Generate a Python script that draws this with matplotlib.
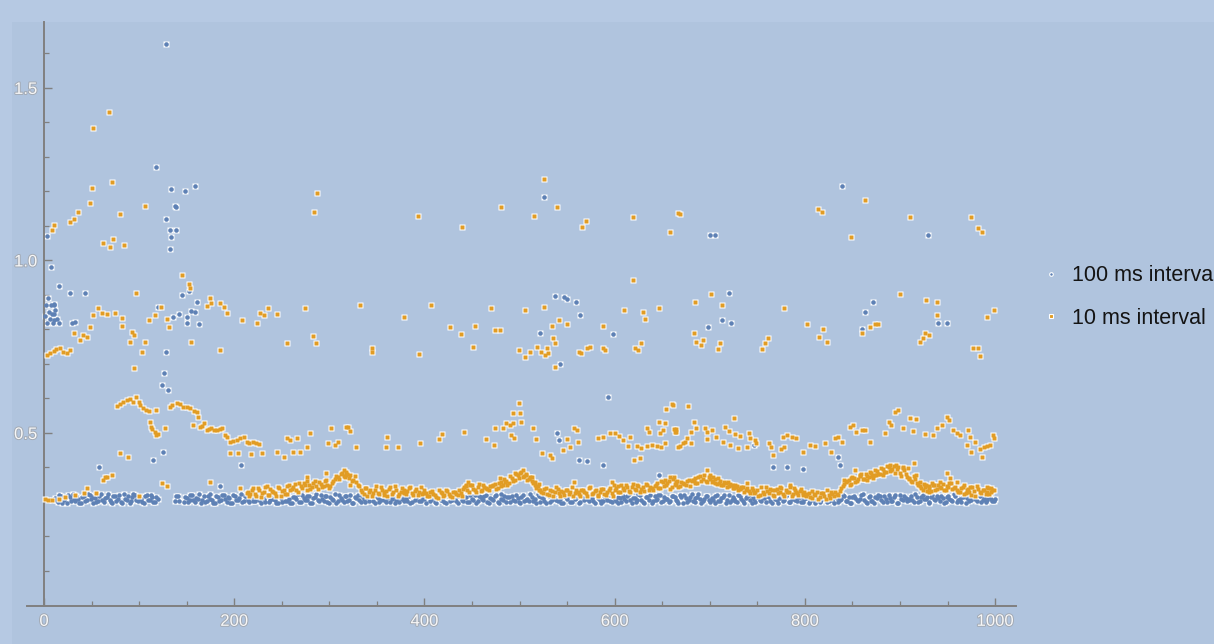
import numpy as np
import matplotlib
matplotlib.use("Agg")
import matplotlib.pyplot as plt
import matplotlib.patheffects as pe
from matplotlib.lines import Line2D
from matplotlib.patches import Rectangle

plt.rcParams['font.family'] = ['Liberation Sans', 'DejaVu Sans']

# ---------------- data ----------------
series_labels = ["100 ms interval", "10 ms interval"]
x_ticks = [0, 200, 400, 600, 800, 1000]
y_ticks = [0.5, 1.0, 1.5]

nan = float('nan')
# 100 ms interval: baseline band, samples 12, 15, 18, ... (values in 1/1000)
blue_base_start, blue_base_step = 12, 3
blue_base = [
    312, 300, 318, 305, 296, 315, 322, 302, 309, 298,
    316, 305, 320, 298, 311, 303, 324, 300, 314, 307,
    297, 318, 309, 301, 322, 306, 296, 313, 319, 302,
    310, 298, 321, 305, 315, 300, 308, nan, nan, nan,
    nan, nan, 304, 317, nan, 299, 312, 306, 320, 301,
    309, 296, 316, 303, 323, 307, 298, 314, 305, 319,
    300, 311, 297, 318, 306, 322, 302, 313, 299, 315,
    304, 320, 296, 310, 317, 301, 324, 307, 298, 312,
    319, 303, 309, 296, 315, 322, 300, 311, 305, 318,
    298, 313, 306, 321, 302, 316, 297, 310, 323, 304,
    312, 299, 318, 307, 296, 314, 320, 301, 309, 317,
    303, 322, 298, 311, 305, 319, 300, 315, 308, 296,
    313, 321, 302, 310, 317, 299, 306, 323, 304, 312,
    297, 316, 309, 301, 320, 305, 314, 298, 318, 307,
    311, 296, 322, 303, 315, 300, 309, 319, 302, 313,
    305, 321, 298, 310, 316, 301, 324, 307, 299, 314,
    318, 304, 311, 296, 320, 306, 302, 315, 309, 322,
    300, 312, 297, 317, 305, 319, 303, 310, 296, 314,
    321, 301, 308, 316, 299, 313, 323, 304, 311, 297,
    318, 306, 302, 315, 320, 300, 309, 296, 312, 317,
    303, 322, 298, 311, 305, 319, 301, 314, 307, 296,
    316, 310, 321, 302, 308, 299, 318, 313, 304, 320,
    297, 312, 306, 323, 300, 315, 309, 302, 317, 305,
    311, 298, 319, 304, 314, 296, 321, 307, 310, 301,
    316, 303, 312, 320, 298, 309, 315, 305, 322, 300,
    313, 297, 318, 306, 311, 302, 317, 299, 310, 324,
    304, 315, 301, 312, 296, 319, 307, 314, 300, 321,
    309, 303, 316, 298, 311, 305, 320, 302, 313, 297,
    318, 306, 310, 322, 300, 315, 304, 296, 312, 317,
    301, 309, 319, 303, 314, 298, 321, 307, 311, 305,
    316, 299, 313, 302, 320, 308, 297, 315, 310, 318,
    303, 312, 300, 317, 306, 322, 301, 309, 314, 298,
    311, 305, 319, 302, 316, 307, 300, 313, 310, 304,
]
# 100 ms interval: baseline band, samples 13, 16, 19, ...
blue_base2_start = 13
blue_base2 = [
    305, 319, 298, 312, 321, 303, 308, 316, 297, 314,
    302, 322, 308, 315, 299, 318, 306, 311, 323, 300,
    316, 304, 320, 297, 310, 317, 302, 323, 305, 312,
    299, 317, 306, 320, 301, 313, nan, nan, nan, nan,
    nan, nan, 318, 303, nan, 314, 300, 321, 307, 311,
    322, 305, 299, 318, 310, 296, 316, 303, 320, 308,
    314, 298, 320, 305, 312, 300, 317, 306, 323, 302,
    318, 307, 313, 299, 322, 305, 310, 296, 316, 301,
    304, 320, 298, 314, 308, 300, 321, 306, 317, 297,
    311, 324, 303, 309, 318, 300, 314, 305, 296, 319,
    307, 316, 302, 321, 298, 311, 305, 318, 300, 313,
    320, 304, 316, 299, 323, 307, 312, 301, 318, 306,
    300, 309, 317, 304, 296, 320, 313, 302, 315, 308,
    319, 303, 311, 298, 322, 306, 300, 316, 304, 312,
    302, 318, 307, 314, 299, 321, 305, 297, 317, 310,
    316, 300, 312, 305, 320, 298, 308, 318, 313, 301,
    306, 321, 299, 315, 302, 310, 323, 304, 297, 316,
    314, 303, 319, 300, 311, 306, 322, 298, 317, 308,
    301, 318, 312, 296, 320, 305, 309, 315, 302, 321,
    311, 297, 316, 307, 302, 319, 304, 313, 300, 310,
    318, 305, 312, 300, 323, 307, 298, 315, 321, 303,
    306, 320, 299, 314, 310, 302, 317, 305, 296, 313,
    319, 301, 315, 304, 311, 322, 298, 308, 316, 300,
    305, 318, 302, 312, 320, 307, 299, 314, 303, 321,
    309, 296, 317, 306, 313, 300, 319, 304, 311, 316,
    302, 321, 308, 298, 315, 305, 322, 301, 318, 307,
    313, 300, 310, 319, 303, 316, 297, 312, 306, 320,
    299, 315, 305, 322, 301, 309, 317, 304, 296, 314,
    311, 303, 320, 307, 298, 318, 302, 313, 321, 305,
    316, 300, 312, 304, 319, 296, 310, 317, 303, 309,
    306, 322, 301, 315, 308, 313, 299, 320, 305, 312,
    318, 297, 314, 309, 302, 316, 307, 300, 319, 311,
    303, 315, 308, 321, 300, 312, 306, 318, 302, 309,
]

# 100 ms interval: values off the baseline (sample, value)
blue_upper = [
    (1, 0.84), (2, 0.87), (3, 0.82), (4, 0.89), (5, 0.85), (6, 0.83),
    (7, 0.87), (8, 0.845), (9, 0.82), (10, 0.87), (10, 0.845), (10, 0.828),
    (11, 0.875), (12, 0.855), (14, 0.83), (16, 0.818), (3, 1.071),
    (7, 0.982), (16, 0.927), (27, 0.907), (43, 0.907), (29, 0.818), (33, 0.823),
    (118, 1.272), (120, 0.866), (128, 1.628), (128, 1.119), (132, 1.088),
    (132, 1.032), (133, 1.206), (134, 1.067), (136, 0.837), (138, 1.159),
    (139, 1.154), (139, 1.088), (142, 0.845), (145, 0.90), (148, 1.20),
    (150, 0.837), (150, 0.818), (152, 0.912), (155, 0.854), (159, 0.85),
    (159, 1.216), (161, 0.881), (163, 0.816),
    (521, 0.791), (526, 1.185), (537, 0.897), (547, 0.893), (550, 0.888),
    (559, 0.881), (564, 0.842), (598, 0.787),
    (698, 0.806), (700, 1.074), (706, 1.074), (713, 0.826), (720, 0.907),
    (722, 0.82), (839, 1.216), (860, 0.80), (863, 0.85), (872, 0.881),
    (929, 1.074), (940, 0.82), (949, 0.82),
]
blue_mid = [
    (58, 0.402), (115, 0.422), (124, 0.639), (125, 0.446), (126, 0.675),
    (128, 0.734), (130, 0.625), (185, 0.346), (207, 0.407),
    (539, 0.499), (541, 0.48), (543, 0.70), (562, 0.422), (571, 0.42),
    (588, 0.407), (593, 0.603), (647, 0.378),
    (746, 0.465), (767, 0.40), (781, 0.402), (798, 0.396), (835, 0.431),
    (837, 0.407),
]

# 10 ms interval: baseline band, samples 213, 216, ... (values in 1/1000)
orange_base_start, orange_base_step = 213, 3
orange_base = [
    325, 318, 335, 322, 340, 315, 330, 345, 320, 333, 327, 342, 318, 336, 324, 348,
    338, 352, 330, 345, 356, 335, 348, 342, 360, 338, 352, 346, 365, 340,
    355, 368, 372, 380, 376, 388, 370, 362, 375, 350,
    335, 322, 340, 328, 318, 336, 325, 342, 320, 332, 338, 324, 345, 318, 330,
    336, 322, 340, 327, 333, 319, 343, 326,
    325, 316, 332, 320, 312, 328, 318, 335, 322, 314, 330, 320, 326,
    338, 345, 330, 350, 336, 342, 332, 348, 340, 335,
    345, 352, 340, 358, 348, 362, 355, 370, 365, 378, 385, 372, 380, 368, 360, 350, 345,
    335, 325, 340, 320, 332, 328, 338, 318, 330, 336, 322, 342, 326,
    330, 318, 336, 325, 340, 322, 332, 316, 328, 338, 320, 334, 326,
    335, 345, 328, 340, 350, 332, 342, 338, 348, 330, 344, 352, 336, 340,
    345, 355, 340, 358, 348, 362, 342, 352, 360, 346, 356, 350, 364,
    360, 370, 355, 375, 368, 362, 372, 358, 366, 352, 360, 348, 356, 345, 350,
    340, 346, 338, 342, 335,
    332, 340, 325, 336, 320, 330, 342, 326, 334, 318, 338, 328, 322, 336, 330,
    316, 340, 326, 332, 320,
    318, 326, 312, 322, 330, 315, 325, 310, 320, 328, 316, 324, 332,
    345, 358, 365, 352, 370, 362, 375, 368, 380, 372, 385, 378, 390, 382, 395,
    388, 400, 392, 405, 396, 385, 398, 380, 370, 362, 375, 355,
    345, 335, 350, 340, 332, 348, 338, 344, 352, 336, 342, 355, 340,
    335, 328, 342, 325, 338, 320, 332, 345, 330, 336, 322, 340, 328, 334,
]
# 10 ms interval: baseline band, samples 214, 217, ...
orange_base2_start = 214
orange_base2 = [
    330, 322, 340, 318, 336, 326, 344, 320, 338, 328, 316, 340, 332, 322, 346, 334,
    344, 336, 356, 340, 350, 362, 338, 355, 346, 358, 342, 360, 350, 345,
    362, 375, 366, 385, 372, 382, 378, 365, 358, 345,
    328, 340, 318, 334, 326, 345, 322, 336, 330, 316, 342, 328, 335, 322, 340,
    326, 332, 344, 320, 338, 328, 322, 334,
    318, 330, 322, 314, 336, 325, 320, 332, 316, 328, 324, 334, 318,
    342, 334, 348, 338, 330, 352, 336, 344, 338, 346,
    350, 338, 355, 345, 366, 350, 374, 360, 382, 370, 388, 376, 365, 372, 355, 340, 352,
    328, 338, 322, 335, 318, 342, 326, 332, 320, 336, 328, 316, 334,
    322, 336, 328, 318, 342, 326, 334, 320, 338, 324, 330, 340, 318,
    340, 330, 348, 336, 342, 328, 352, 334, 346, 338, 332, 348, 342, 336,
    350, 340, 362, 346, 356, 338, 366, 350, 344, 358, 352, 360, 346,
    365, 355, 372, 360, 378, 358, 368, 362, 354, 370, 350, 358, 344, 352, 340,
    348, 336, 344, 330, 340,
    326, 336, 330, 318, 342, 324, 332, 338, 320, 334, 326, 340, 316, 330, 342,
    324, 334, 320, 338, 328,
    324, 314, 332, 320, 308, 326, 318, 334, 312, 322, 330, 320, 340,
    352, 362, 348, 372, 358, 368, 382, 366, 376, 388, 374, 392, 380, 398, 386,
    404, 390, 396, 384, 402, 376, 392, 372, 366, 358, 368, 348,
    340, 352, 332, 345, 355, 336, 348, 340, 334, 346, 356, 338, 344,
    330, 340, 322, 336, 328, 344, 318, 338, 326, 334, 342, 324, 336,
]

# 10 ms interval: values off the baseline (sample, value)
orange_low = [
    (1, 0.31), (4, 0.306), (8, 0.306), (16, 0.31), (22, 0.315), (33, 0.32),
    (42, 0.325), (45, 0.34), (55, 0.326), (62, 0.365), (64, 0.372), (66, 0.373),
    (71, 0.378), (100, 0.318), (124, 0.356), (129, 0.346), (175, 0.359),
    (206, 0.34),
    (276, 0.373), (297, 0.383), (315, 0.393), (317, 0.378), (322, 0.35),
    (444, 0.349), (446, 0.359), (479, 0.369), (485, 0.359), (495, 0.383),
    (504, 0.393), (507, 0.378), (513, 0.373), (516, 0.359), (520, 0.335),
    (557, 0.359), (597, 0.359), (599, 0.349), (653, 0.364), (658, 0.373),
    (662, 0.373), (664, 0.359), (683, 0.364), (697, 0.393), (700, 0.378),
    (703, 0.373), (710, 0.354), (719, 0.359), (728, 0.344), (733, 0.34),
    (739, 0.354), (774, 0.344), (784, 0.349), (791, 0.33), (798, 0.325),
    (841, 0.364), (849, 0.369), (853, 0.393), (858, 0.378), (865, 0.364),
    (872, 0.369), (875, 0.378), (882, 0.378), (889, 0.407), (896, 0.407),
    (903, 0.402), (908, 0.398), (915, 0.412), (917, 0.378), (921, 0.359),
    (926, 0.344), (930, 0.33), (935, 0.349), (942, 0.359), (949, 0.383),
    (953, 0.369), (960, 0.359), (967, 0.349), (974, 0.344), (991, 0.33),
    (996, 0.34),
]
orange_mid = [
    (77, 0.578), (80, 0.585), (83, 0.59), (87, 0.596), (90, 0.598), (94, 0.591),
    (97, 0.605), (100, 0.59), (101, 0.581), (104, 0.572), (107, 0.568),
    (110, 0.565), (118, 0.567), (111, 0.533), (113, 0.518), (114, 0.512),
    (117, 0.504), (118, 0.494), (120, 0.498), (127, 0.514), (132, 0.576),
    (135, 0.58), (140, 0.586), (143, 0.583), (146, 0.576), (150, 0.575),
    (154, 0.572), (158, 0.565), (161, 0.562), (162, 0.547), (157, 0.523),
    (164, 0.518), (166, 0.52), (168, 0.528), (171, 0.509), (173, 0.512),
    (176, 0.514), (179, 0.51), (182, 0.509), (185, 0.512), (187, 0.514),
    (190, 0.495), (192, 0.489), (196, 0.475), (199, 0.478), (203, 0.48),
    (206, 0.486), (210, 0.489), (213, 0.475), (216, 0.47), (220, 0.475),
    (223, 0.47), (226, 0.468), (196, 0.441), (204, 0.441), (218, 0.439),
    (229, 0.441), (245, 0.446), (252, 0.431), (255, 0.485), (259, 0.48),
    (266, 0.485), (262, 0.446), (269, 0.446), (276, 0.46), (280, 0.501),
    (299, 0.47), (302, 0.514), (306, 0.465), (309, 0.475), (318, 0.518),
    (80, 0.441), (88, 0.431),
    (320, 0.518), (322, 0.507), (328, 0.459), (361, 0.488), (360, 0.46),
    (372, 0.459), (395, 0.472), (415, 0.482), (418, 0.497), (442, 0.502),
    (465, 0.483), (473, 0.465), (474, 0.514), (483, 0.514), (486, 0.528),
    (490, 0.523), (493, 0.528), (499, 0.588), (493, 0.557), (501, 0.557),
    (502, 0.533), (491, 0.494), (494, 0.485), (514, 0.514), (517, 0.482),
    (524, 0.441), (532, 0.436), (534, 0.427), (550, 0.482), (557, 0.514),
    (560, 0.509), (561, 0.475), (546, 0.451), (553, 0.459), (583, 0.485),
    (588, 0.488), (595, 0.499), (600, 0.499), (605, 0.491), (609, 0.48),
    (616, 0.488), (614, 0.462), (623, 0.462), (628, 0.456), (634, 0.462),
    (639, 0.465), (644, 0.462), (649, 0.459), (653, 0.472), (620, 0.422),
    (627, 0.427), (634, 0.514), (636, 0.504), (648, 0.501), (651, 0.509),
    (653, 0.528), (662, 0.511), (663, 0.504), (647, 0.533), (654, 0.569),
    (660, 0.584), (667, 0.46), (661, 0.581), (677, 0.578), (664, 0.511),
    (665, 0.504),
    (683, 0.533), (686, 0.514), (695, 0.514), (697, 0.504), (702, 0.509),
    (680, 0.504), (676, 0.485), (674, 0.475), (669, 0.462), (672, 0.47),
    (680, 0.47), (697, 0.482), (707, 0.488), (714, 0.475), (721, 0.465),
    (725, 0.543), (716, 0.518), (720, 0.507), (727, 0.497), (732, 0.491),
    (741, 0.501), (742, 0.485), (748, 0.48), (749, 0.47), (730, 0.456),
    (739, 0.46), (762, 0.47), (764, 0.46), (767, 0.436), (777, 0.489),
    (781, 0.494), (786, 0.489), (791, 0.485), (778, 0.46), (775, 0.453),
    (798, 0.446), (805, 0.465), (811, 0.462), (821, 0.472), (828, 0.446),
    (832, 0.485), (835, 0.489), (839, 0.475), (847, 0.518), (851, 0.523),
    (854, 0.504), (860, 0.509), (863, 0.509), (869, 0.475), (884, 0.499),
    (888, 0.533), (891, 0.523), (895, 0.562), (898, 0.567), (903, 0.514),
    (911, 0.543), (917, 0.54), (914, 0.507), (926, 0.497), (935, 0.494),
    (939, 0.514), (944, 0.523), (949, 0.547), (952, 0.538), (956, 0.509),
    (960, 0.499), (963, 0.494), (972, 0.509), (974, 0.489), (970, 0.465),
    (979, 0.475), (984, 0.453), (975, 0.446), (988, 0.459), (991, 0.462),
    (995, 0.465), (998, 0.494), (999, 0.485), (986, 0.431),
]
orange_upper = [
    (145, 0.958), (152, 0.932), (153, 0.919), (97, 0.907), (123, 0.866),
    (175, 0.89), (176, 0.876), (171, 0.869), (185, 0.876), (189, 0.864),
    (192, 0.847), (57, 0.862), (52, 0.842), (61, 0.847), (66, 0.845),
    (75, 0.847), (82, 0.833), (82, 0.811), (110, 0.828), (117, 0.842),
    (129, 0.83), (131, 0.808), (48, 0.808), (31, 0.789), (38, 0.77),
    (45, 0.779), (41, 0.784), (6, 0.731), (17, 0.745), (24, 0.731),
    (27, 0.741), (3, 0.725), (10, 0.738), (13, 0.742), (20, 0.736),
    (92, 0.794), (95, 0.784), (90, 0.765), (106, 0.765), (103, 0.734),
    (95, 0.689), (155, 0.765), (185, 0.741), (208, 0.826), (227, 0.847),
    (224, 0.82), (231, 0.842), (236, 0.861), (245, 0.845), (274, 0.861),
    (255, 0.76), (283, 0.781), (286, 0.76),
    (332, 0.871), (407, 0.871), (378, 0.835), (345, 0.745), (345, 0.736),
    (394, 0.729), (470, 0.861), (427, 0.806), (438, 0.786), (453, 0.811),
    (451, 0.75), (474, 0.797), (479, 0.797), (506, 0.857), (526, 0.866),
    (534, 0.811), (541, 0.826), (550, 0.816), (499, 0.741), (506, 0.72),
    (511, 0.734), (518, 0.75), (523, 0.734), (529, 0.746), (530, 0.731),
    (527, 0.726), (535, 0.775), (537, 0.76), (537, 0.69), (562, 0.734),
    (565, 0.731), (571, 0.746), (574, 0.75), (588, 0.746), (590, 0.739),
    (588, 0.811), (610, 0.857), (630, 0.852), (632, 0.83), (647, 0.861),
    (628, 0.76), (621, 0.745), (625, 0.739), (619, 0.942),
    (685, 0.881), (701, 0.902), (713, 0.871), (683, 0.791), (686, 0.765),
    (691, 0.755), (693, 0.77), (709, 0.743), (711, 0.76), (755, 0.743),
    (758, 0.76), (761, 0.775), (778, 0.861), (802, 0.816), (819, 0.801),
    (815, 0.779), (823, 0.765), (860, 0.791), (868, 0.808), (874, 0.816),
    (877, 0.816), (900, 0.902), (927, 0.886), (939, 0.881), (939, 0.842),
    (926, 0.789), (930, 0.784), (921, 0.765), (924, 0.775), (977, 0.745),
    (982, 0.745), (984, 0.723), (991, 0.835), (999, 0.857),
]
orange_high = [
    (50, 1.209), (71, 1.226), (48, 1.166), (36, 1.139), (31, 1.12), (27, 1.11),
    (10, 1.103), (8, 1.088), (80, 1.135), (106, 1.159), (62, 1.05), (69, 1.038),
    (73, 1.063), (84, 1.046), (52, 1.384), (68, 1.43), (287, 1.195), (284, 1.139),
    (526, 1.235), (480, 1.154), (539, 1.154), (515, 1.129), (570, 1.115),
    (566, 1.098), (619, 1.125), (658, 1.083), (667, 1.138), (393, 1.129),
    (440, 1.098), (669, 1.135), (863, 1.175), (814, 1.148), (818, 1.139),
    (848, 1.069), (911, 1.125), (975, 1.125), (982, 1.093), (986, 1.083),
]

# ---------------- assemble ----------------
def base_xy(start, step, vals):
    v = np.array(vals, dtype=float) / 1000.0
    x = start + step * np.arange(len(v))
    return x, v

bx0, by0 = base_xy(blue_base_start, blue_base_step, blue_base)
bx1, by1 = base_xy(blue_base2_start, blue_base_step, blue_base2)
bo = np.array(blue_upper + blue_mid, dtype=float)
blue_x = np.concatenate([bx0, bx1, bo[:, 0]])
blue_y = np.concatenate([by0, by1, bo[:, 1]])

ox0, oy0 = base_xy(orange_base_start, orange_base_step, orange_base)
ox1, oy1 = base_xy(orange_base2_start, orange_base_step, orange_base2)
oo = np.array(orange_low + orange_mid + orange_upper + orange_high, dtype=float)
orange_x = np.concatenate([ox0, ox1, oo[:, 0]])
orange_y = np.concatenate([oy0, oy1, oo[:, 1]])

# ---------------- figure ----------------
W, H = 1214, 644
bg = '#B0C4DE'
fig = plt.figure(figsize=(W / 100, H / 100), dpi=100, facecolor='#B6C9E3')
fig.patches.append(Rectangle((12 / W, 0), 1 - 12 / W, (H - 22) / H,
                             transform=fig.transFigure, facecolor=bg,
                             edgecolor='none', zorder=-10))

ax_left, ax_right, ax_top, ax_bottom = 26.9, 1016.0, 22.0, 605.5
ax = fig.add_axes([ax_left / W, (H - ax_bottom) / H,
                   (ax_right - ax_left) / W, (ax_bottom - ax_top) / H])
ax.set_facecolor('none')
ax.set_zorder(5)

blue_c = '#5E81B5'
orange_c = '#E19C24'

ax.plot(blue_x, blue_y, 's', ms=4.6, color='white', mec='none', zorder=2)
ax.plot(blue_x, blue_y, 'o', ms=3.3, color=blue_c, mec='none', zorder=3)
ax.plot(orange_x, orange_y, 's', ms=4.9, color='white', mec='none', zorder=4)
ax.plot(orange_x, orange_y, 's', ms=3.4, color=orange_c, mec='none', zorder=5)

ax.set_xlim(-18, 1022)
ax.set_ylim(0, 1.691)

for s in ['top', 'right']:
    ax.spines[s].set_visible(False)
ax.spines['left'].set_position(('data', 0))
ax.spines['bottom'].set_position(('data', 0))
for s in ['left', 'bottom']:
    ax.spines[s].set_color('#808080')
    ax.spines[s].set_linewidth(1.4)

ax.set_xticks(x_ticks)
ax.set_xticks(np.arange(50, 1000, 50), minor=True)
ax.set_yticks(y_ticks)
ax.set_yticks([0.1, 0.2, 0.3, 0.4, 0.6, 0.7, 0.8, 0.9, 1.1, 1.2, 1.3, 1.4, 1.6], minor=True)
ax.set_xticklabels([str(t) for t in x_ticks])
ax.set_yticklabels(['0.5', '1.0', '1.5'])
ax.tick_params(which='major', direction='in', length=6, width=1.0,
               color='#808080', labelsize=12, labelcolor='#f7f7f7')
ax.tick_params(which='minor', direction='in', length=3.5, width=0.9,
               color='#808080')
ax.tick_params(axis='x', which='major', pad=6)
ax.tick_params(axis='y', which='major', pad=5)
for lab in ax.get_xticklabels() + ax.get_yticklabels():
    lab.set_path_effects([pe.withStroke(linewidth=1.4, foreground='#a3aab4')])

handles = [
    Line2D([], [], ls='none', marker='o', ms=2.6, color=blue_c,
           mec='white', mew=0.8),
    Line2D([], [], ls='none', marker='s', ms=3.0, color=orange_c,
           mec='white', mew=0.8),
]
leg = fig.legend(handles, series_labels, loc='center left',
                 bbox_to_anchor=(1040 / W, 1 - 297 / H),
                 bbox_transform=fig.transFigure, frameon=False,
                 fontsize=15.5, handlelength=1.0, handletextpad=0.5,
                 labelspacing=0.98, borderpad=0, borderaxespad=0)
for t in leg.get_texts():
    t.set_color('#141414')

fig.savefig('out.png', dpi=100, facecolor=fig.get_facecolor())
